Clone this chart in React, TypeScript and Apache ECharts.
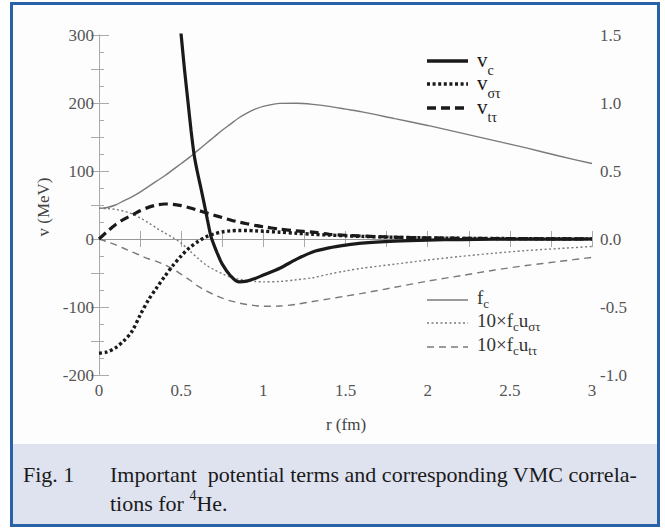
import React, { useEffect, useRef } from "react";
import * as echarts from "echarts";

// ---------- data ----------
const rGrid = [0, 0.05, 0.1, 0.15, 0.2, 0.25, 0.3, 0.35, 0.4, 0.45, 0.5, 0.55, 0.6, 0.65, 0.7, 0.75, 0.8, 0.85, 0.9, 0.95, 1.0, 1.1, 1.2, 1.3, 1.4, 1.5, 1.6, 1.8, 2.0, 2.2, 2.4, 2.6, 2.8, 3.0];

// v_c (MeV) sampled on its own r grid (steep core)
const rCore = [0.46, 0.48, 0.5, 0.52, 0.54, 0.56, 0.58, 0.6, 0.62, 0.64, 0.66, 0.68, 0.7, 0.72, 0.75, 0.8, 0.85, 0.9, 0.95, 1.0, 1.1, 1.2, 1.3, 1.4, 1.5, 1.6, 1.8, 2.0, 2.2, 2.4, 2.6, 2.8, 3.0];
const vC = [400, 350, 300, 250, 205, 160, 122, 97, 75, 52, 28, 5, -9, -21, -37, -54, -63, -62, -58, -53, -43, -30, -19, -13, -9, -6, -3.2, -1.6, -0.8, -0.4, -0.2, -0.1, 0];

const vSigmaTau = [-168, -166, -160, -150, -136, -112, -90, -72, -55, -39, -25, -13, -4, 3, 7.5, 10.5, 12, 12.5, 12.5, 12, 11.5, 10, 8.5, 7, 5.8, 4.7, 3.8, 2.5, 1.6, 1.0, 0.7, 0.5, 0.3, 0.2];
const vTauTau = [0, 11, 21, 29, 35, 41.5, 46.5, 50, 51.5, 51, 49, 46, 42.5, 38.5, 35, 31.5, 28, 25, 22.5, 20, 18, 14.5, 12, 10, 7, 5.5, 4.3, 2.7, 1.7, 1.1, 0.7, 0.5, 0.3, 0.2];

// right axis quantities
const fC = [0.225, 0.232, 0.25, 0.28, 0.31, 0.345, 0.385, 0.425, 0.465, 0.51, 0.555, 0.6, 0.65, 0.7, 0.75, 0.8, 0.845, 0.89, 0.925, 0.955, 0.975, 0.997, 0.998, 0.99, 0.975, 0.955, 0.935, 0.885, 0.835, 0.78, 0.725, 0.67, 0.61, 0.555];
const fcUSigmaTau = [0.225, 0.224, 0.218, 0.205, 0.185, 0.155, 0.12, 0.08, 0.045, 0.01, -0.03, -0.085, -0.14, -0.19, -0.225, -0.255, -0.28, -0.295, -0.305, -0.312, -0.315, -0.312, -0.3, -0.285, -0.258, -0.235, -0.215, -0.185, -0.155, -0.128, -0.105, -0.085, -0.07, -0.055];
const fcUTauTau = [0, -0.02, -0.042, -0.068, -0.095, -0.12, -0.145, -0.165, -0.19, -0.22, -0.26, -0.3, -0.345, -0.38, -0.41, -0.435, -0.455, -0.47, -0.482, -0.49, -0.495, -0.493, -0.48, -0.46, -0.44, -0.42, -0.4, -0.355, -0.31, -0.27, -0.23, -0.195, -0.165, -0.135];

const leftTicks = { min: -200, max: 300, interval: 100 };
const rightTicks = { min: -1.0, max: 1.5, interval: 0.5 };
const xTicks = { min: 0, max: 3, interval: 0.5 };

const FONT = "'Liberation Serif', 'Times New Roman', serif";

const pair = (xs: number[], ys: number[]) => xs.map((x, i) => [x, ys[i]]);

export default function App() {
  const ref = useRef<HTMLDivElement>(null);
  useEffect(() => {
    if (!ref.current) return;
    const chart = echarts.init(ref.current, undefined, { renderer: "svg" });
    const axisColor = "#aaaaaa";
    const labelColor = "#555555";
    const dark = "#1a1a1a";
    const thin = "#7a7a7a";

    const subRich = {
      m: { fontSize: 21, fontFamily: FONT, fill: dark, lineHeight: 28, verticalAlign: "top" },
      s: { fontSize: 14, fontFamily: FONT, fill: dark, lineHeight: 12, verticalAlign: "bottom" },
    };
    const thinRich = {
      m: { fontSize: 19, fontFamily: FONT, fill: "#333", lineHeight: 22, verticalAlign: "top" },
      s: { fontSize: 13, fontFamily: FONT, fill: "#333", lineHeight: 12, verticalAlign: "bottom" },
    };

    const legendLine = (y: number, w: number, color: string, dash: any) => ({
      type: "line",
      shape: { x1: 427, y1: y, x2: 468, y2: y },
      style: { stroke: color, lineWidth: w, lineDash: dash },
      z: 100,
    });
    const legendText = (y: number, text: string, rich: any) => ({
      type: "text",
      x: 477,
      y,
      style: { text, rich, textVerticalAlign: "middle", textAlign: "left" },
      z: 100,
    });

    const option: any = {
      animation: false,
      grid: { left: 99, right: 73, top: 35, bottom: 154, containLabel: false },
      xAxis: [
        {
          type: "value",
          ...xTicks,
          position: "bottom",
          axisLine: { show: true, lineStyle: { color: axisColor, width: 1 } },
          axisTick: { show: true, inside: true, length: 8, lineStyle: { color: axisColor } },
          minorTick: { show: true, splitNumber: 2, length: 8, lineStyle: { color: axisColor } },
          splitLine: { show: false },
          axisLabel: { color: labelColor, fontFamily: FONT, fontSize: 17, margin: 7 },
        },
        {
          type: "value",
          ...xTicks,
          position: "top",
          axisLine: { show: true, lineStyle: { color: axisColor, width: 1 } },
          axisTick: { show: true, inside: true, length: 8, lineStyle: { color: axisColor } },
          minorTick: { show: true, splitNumber: 2, length: 8, lineStyle: { color: axisColor } },
          splitLine: { show: false },
          axisLabel: { show: false },
        },
      ],
      yAxis: [
        {
          type: "value",
          ...leftTicks,
          position: "left",
          axisLine: { show: true, lineStyle: { color: axisColor, width: 1 } },
          axisTick: { show: true, inside: true, length: 10, lineStyle: { color: axisColor } },
          minorTick: { show: true, splitNumber: 4, length: 5, lineStyle: { color: axisColor } },
          splitLine: { show: false },
          axisLabel: { color: labelColor, fontFamily: FONT, fontSize: 17, margin: 5 },
        },
        {
          type: "value",
          ...rightTicks,
          position: "right",
          axisLine: { show: true, lineStyle: { color: axisColor, width: 1 } },
          axisTick: { show: true, inside: true, length: 8, lineStyle: { color: axisColor } },
          minorTick: { show: true, splitNumber: 2, length: 8, lineStyle: { color: axisColor } },
          splitLine: { show: false },
          axisLabel: { color: labelColor, fontFamily: FONT, fontSize: 17, margin: 8, formatter: (v: number) => v.toFixed(1) },
        },
      ],
      series: [
        {
          name: "fc",
          type: "line",
          yAxisIndex: 1,
          data: pair(rGrid, fC),
          showSymbol: false,
          smooth: 0.3,
          lineStyle: { color: thin, width: 1.4 },
          z: 2,
        },
        {
          name: "10xfc u_sigtau",
          type: "line",
          yAxisIndex: 1,
          data: pair(rGrid, fcUSigmaTau),
          showSymbol: false,
          smooth: 0.3,
          lineStyle: { color: thin, width: 1.4, type: [2, 2.5] },
          z: 2,
        },
        {
          name: "10xfc u_tautau",
          type: "line",
          yAxisIndex: 1,
          data: pair(rGrid, fcUTauTau),
          showSymbol: false,
          smooth: 0.3,
          lineStyle: { color: thin, width: 1.4, type: [7, 5] },
          z: 2,
        },
        {
          name: "v_c",
          type: "line",
          yAxisIndex: 0,
          data: pair(rCore, vC),
          showSymbol: false,
          smooth: 0.3,
          clip: true,
          lineStyle: { color: dark, width: 3.2 },
          z: 3,
          markLine: {
            silent: true,
            symbol: ["none", "none"],
            label: { show: false },
            lineStyle: { color: "#999", width: 1, type: "solid" },
            data: [{ yAxis: 0 }],
            z: 1,
          },
        },
        {
          name: "v_sigtau",
          type: "line",
          yAxisIndex: 0,
          data: pair(rGrid, vSigmaTau),
          showSymbol: false,
          smooth: 0.3,
          lineStyle: { color: dark, width: 3.4, type: [3, 2.6] },
          z: 3,
        },
        {
          name: "v_tautau",
          type: "line",
          yAxisIndex: 0,
          data: pair(rGrid, vTauTau),
          showSymbol: false,
          smooth: 0.3,
          lineStyle: { color: dark, width: 3.2, type: [9, 5] },
          z: 3,
        },
      ],
      graphic: [
        // outer panel and caption band
        { type: "rect", shape: { x: 11.5, y: 3.5, width: 647, height: 522 }, style: { fill: "#fdfdfd" }, z: -20, silent: true },
        { type: "rect", shape: { x: 12, y: 444, width: 646, height: 82 }, style: { fill: "#dfe3f0" }, z: -19, silent: true },
        { type: "rect", shape: { x: 11.5, y: 3.5, width: 647, height: 522 }, style: { fill: "none", stroke: "#2862a8", lineWidth: 3 }, z: 200, silent: true },
        // axis titles
        {
          type: "text",
          x: 43,
          y: 207,
          rotation: Math.PI / 2,
          style: { text: "v (MeV)", font: `17px ${FONT}`, fill: "#444", textAlign: "center", textVerticalAlign: "middle" },
        },
        {
          type: "text",
          x: 346,
          y: 424,
          style: { text: "r (fm)", font: `17px ${FONT}`, fill: "#444", textAlign: "center", textVerticalAlign: "middle" },
        },
        // legend, top block
        legendLine(61, 3.5, dark, null),
        legendLine(84, 3.5, dark, [3, 2.6]),
        legendLine(108, 3.5, dark, [9, 5]),
        legendText(63, "{m|v}{s|c}", subRich),
        legendText(86, "{m|v}{s|στ}", subRich),
        legendText(110, "{m|v}{s|tτ}", subRich),
        // legend, bottom block
        legendLine(300, 1.4, thin, null),
        legendLine(323, 1.4, thin, [2, 2.5]),
        legendLine(347, 1.4, thin, [7, 5]),
        legendText(299, "{m|f}{s|c}", thinRich),
        legendText(322, "{m|10×f}{s|c}{m|u}{s|στ}", thinRich),
        legendText(346, "{m|10×f}{s|c}{m|u}{s|tτ}", thinRich),
        // caption
        {
          type: "text",
          x: 23,
          y: 474,
          style: { text: "Fig. 1", font: `22px ${FONT}`, fill: "#1a1a1a", textAlign: "left", textVerticalAlign: "middle" },
        },
        {
          type: "text",
          x: 110,
          y: 474,
          style: { text: "Important  potential terms and corresponding VMC correla-", font: `22px ${FONT}`, fill: "#1a1a1a", textAlign: "left", textVerticalAlign: "middle" },
        },
        {
          type: "text",
          x: 110,
          y: 501,
          style: {
            text: "{m|tions for }{p|4}{m|He.}",
            textAlign: "left",
            textVerticalAlign: "middle",
            rich: {
              m: { fontSize: 22, fontFamily: FONT, fill: "#1a1a1a", lineHeight: 26, verticalAlign: "bottom" },
              p: { fontSize: 14, fontFamily: FONT, fill: "#1a1a1a", lineHeight: 14, verticalAlign: "top" },
            },
          },
        },
      ],
    };
    chart.setOption(option);
    return () => chart.dispose();
  }, []);
  return (
    <div
      ref={ref}
      style={{ position: "absolute", left: 0, top: 0, width: 665, height: 529, background: "#ffffff" }}
    />
  );
}
